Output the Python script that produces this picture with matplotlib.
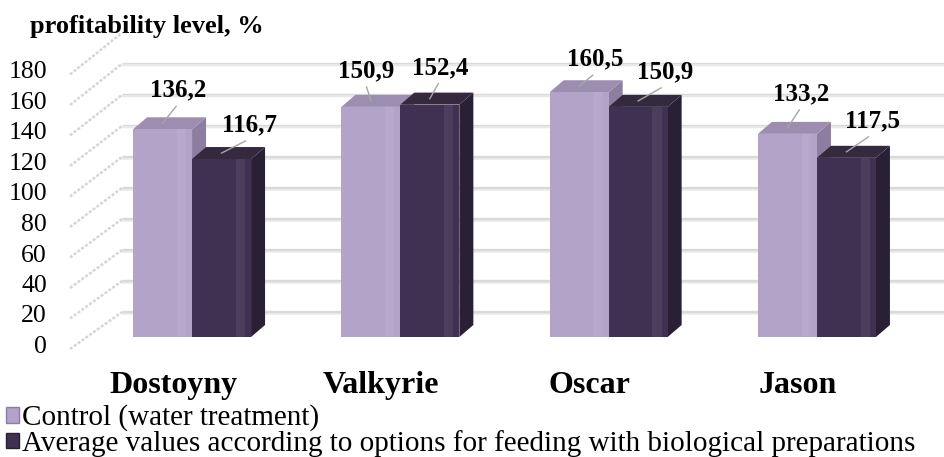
import matplotlib
matplotlib.use('Agg')
import matplotlib.pyplot as plt
import matplotlib.transforms as mtransforms
from matplotlib.patches import Polygon, Patch

plt.rcParams['font.family'] = ['Liberation Serif', 'DejaVu Serif']

# data
varieties = ['Dostoyny', 'Valkyrie', 'Oscar', 'Jason']
control = [136.2, 150.9, 160.5, 133.2]
biological = [116.7, 152.4, 150.9, 117.5]
y_ticks = list(range(0, 181, 20))
series_names = ['Control (water treatment)',
                'Average values according to options for feeding with biological preparations']

# value label offsets (px from front-face centre / top)
ctrl_lbl_off = [(16, 39), (-5, 36), (16, 33), (14, 40)]
bio_lbl_off = [(28, 34), (10, 37), (27, 35), (26, 37)]

W, H = 944, 457
fig = plt.figure(figsize=(W / 100, H / 100), dpi=100)
ax = fig.add_axes([60 / W, 120 / H, 884 / W, (337 - 62.5) / H])
ax.set_xlim(-0.634, 3.61)
ax.set_ylim(0, 180)
ax.axis('off')

x0 = ax.transData.transform((0, 0))
sx = ax.transData.transform((1, 0))[0] - x0[0]
sy = ax.transData.transform((0, 1))[1] - x0[1]


def px_x(px):
    # figure pixel x -> data x
    return (px - x0[0]) / sx


def off(dx, dy):
    return mtransforms.ScaledTranslation(dx / 100, dy / 100, fig.dpi_scale_trans)


# back wall gridlines and left wall dashes
back_left = px_x(122)
front_left = px_x(70)
for v in y_ticks:
    yb = v * 1.017 + 25 / sy
    ax.plot([back_left, 3.61], [yb, yb], color='#d9d9d9', lw=2.4, zorder=1,
            solid_capstyle='butt')
    ax.plot([back_left, 3.61], [yb - 1.6 / sy, yb - 1.6 / sy], color='#ececec',
            lw=1.2, zorder=1)
    ax.plot([front_left, back_left], [v - 12 / sy, yb], color='#d6d6d6', lw=1.8,
            ls=(0, (1.2, 0.7)), zorder=1, clip_on=False)
    ax.text(47 / W, v, str(v), transform=mtransforms.blended_transform_factory(
        fig.transFigure, ax.transData) + off(0, -10),
        ha='right', va='center', fontsize=18.5)

# pseudo 3D bars
bw = 59 / sx
ddx, ddy = 14 / sx, 12 / sy
styles = [('#b4a3c9', '#8d7da1', '#9d8db1'), ('#403152', '#2a2036', '#35293f')]
for i in range(len(varieties)):
    for k, vals in enumerate([control, biological]):
        v = vals[i]
        left = i - bw if k == 0 else i
        front, side, top = styles[k]
        ax.add_patch(Polygon([(left + bw, 0), (left + bw + ddx, ddy),
                              (left + bw + ddx, v + ddy), (left + bw, v)],
                             closed=True, fc=side, ec='none', zorder=3 + 2 * k))
        ax.add_patch(Polygon([(left, v), (left + bw, v), (left + bw + ddx, v + ddy),
                              (left + ddx, v + ddy)],
                             closed=True, fc=top, ec='none', zorder=3 + 2 * k))
        ax.bar(left, v, width=bw, align='edge', color=front, zorder=4 + 2 * k,
               label=series_names[k] if i == 0 else None)
        ax.bar(left + bw * 0.74, v, width=bw * 0.16, align='edge', color='white',
               alpha=0.06, lw=0, zorder=4 + 2 * k)

        dx, dy = (ctrl_lbl_off if k == 0 else bio_lbl_off)[i]
        cx = left + bw / 2
        ax.text(cx + dx / sx, v + dy / sy, f'{v:.1f}'.replace('.', ','),
                ha='center', va='center', fontsize=18, fontweight='bold', zorder=10)
        ax.plot([cx + 0.85 * dx / sx, cx], [v + (dy - 16) / sy, v + 6 / sy],
                color='#a6a6a6', lw=1, zorder=10)

# category labels
for i, name in enumerate(varieties):
    ax.text(i, 0, name, transform=ax.transData + off(-19, -56), ha='center',
            va='baseline', fontsize=23, fontweight='bold')

fig.text(30 / W, 1 - 27 / H, 'profitability level, %', ha='left', va='center',
         fontsize=19, fontweight='bold')

handles = [Patch(fc=styles[0][0], ec='#8d7da1', lw=1),
           Patch(fc=styles[1][0], ec='#2a2036', lw=1)]
fig.legend(handles, series_names, loc='lower left', bbox_to_anchor=(0.006, 0.0),
           fontsize=21, frameon=False, handlelength=0.45, handleheight=0.45,
           handletextpad=0.1, labelspacing=-0.05, borderpad=0, borderaxespad=0)

fig.savefig('out.png', dpi=100)
